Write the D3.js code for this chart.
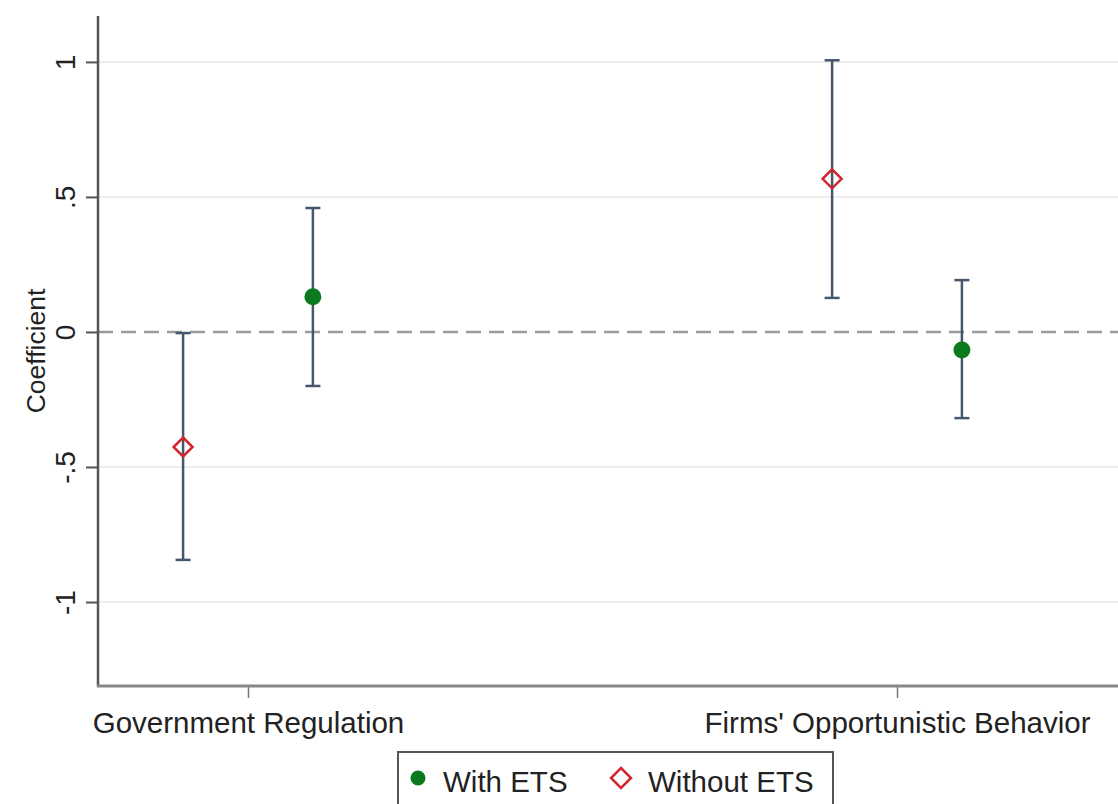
<!DOCTYPE html>
<html>
<head>
<meta charset="utf-8">
<script src="https://cdn.jsdelivr.net/npm/d3@7"></script>
<style>
  html, body { margin: 0; padding: 0; background: #fff; }
  svg { display: block; font-family: "Liberation Sans", Arial, sans-serif; }
</style>
</head>
<body>
<svg id="chart" width="1118" height="804"></svg>
<script>
// Outcome categories along the x axis
const categories = ["Government Regulation", "Firms' Opportunistic Behavior"];

// Coefficient estimates with 95% confidence bounds
const withETS     = [0.130, -0.067];
const withETSLo   = [-0.200, -0.319];
const withETSHi   = [0.459, 0.192];
const withoutETS  = [-0.426, 0.567];
const withoutLo   = [-0.844, 0.126];
const withoutHi   = [-0.004, 1.006];

const yTicks = [-1, -0.5, 0, 0.5, 1];
const yTickLabels = ["-1", "-.5", "0", ".5", "1"];
const seriesNames = ["With ETS", "Without ETS"];

const svg = d3.select("#chart");
const plotL = 98, plotB = 686, plotT = 16, plotR = 1118;

const x = d3.scaleLinear().domain([-0.2311, 1.3405]).range([plotL, plotR]);
const y = d3.scaleLinear().domain([-1.311, 1.170]).range([plotB, plotT]);
const offset = 0.1;

const ciColor = "#46566d";
const green = "#0b7a1e";
const red = "#d3252f";
const textColor = "#222";

// Horizontal gridlines
svg.append("g").selectAll("line")
  .data(yTicks.filter(d => d !== 0))
  .join("line")
  .attr("x1", plotL).attr("x2", plotR)
  .attr("y1", d => y(d)).attr("y2", d => y(d))
  .attr("stroke", "#ededed").attr("stroke-width", 2);

// Reference line at zero
svg.append("line")
  .attr("x1", plotL).attr("x2", plotR)
  .attr("y1", y(0)).attr("y2", y(0))
  .attr("stroke", "#9a9a9a").attr("stroke-width", 2.5)
  .attr("stroke-dasharray", "15,8");

// Y axis
const yAxis = d3.axisLeft(y).tickValues(yTicks)
  .tickFormat((d, i) => yTickLabels[i]).tickSize(12);
const gy = svg.append("g").attr("transform", `translate(${plotL},0)`).call(yAxis);
gy.select(".domain").remove();
gy.selectAll(".tick line").attr("stroke", "#555").attr("stroke-width", 2);
gy.selectAll(".tick text")
  .attr("fill", textColor).attr("font-size", 28)
  .attr("font-family", "Liberation Sans, Arial, sans-serif")
  .attr("text-anchor", "middle")
  .attr("x", 0).attr("dy", null).attr("y", 0)
  .attr("transform", "translate(-23,0) rotate(-90)");
svg.append("line")
  .attr("x1", plotL).attr("x2", plotL).attr("y1", plotT).attr("y2", plotB + 1)
  .attr("stroke", "#555").attr("stroke-width", 2.5);

// X axis
const xAxis = d3.axisBottom(x).tickValues([0, 1])
  .tickFormat((d, i) => categories[i]).tickSize(12).tickPadding(14);
const gx = svg.append("g").attr("transform", `translate(0,${plotB})`).call(xAxis);
gx.select(".domain").remove();
gx.selectAll(".tick line").attr("stroke", "#777").attr("stroke-width", 1.5);
gx.selectAll(".tick text").attr("fill", textColor).attr("font-size", 29.5)
  .attr("font-family", "Liberation Sans, Arial, sans-serif");
svg.append("line")
  .attr("x1", plotL - 1).attr("x2", plotR).attr("y1", plotB).attr("y2", plotB)
  .attr("stroke", "#888").attr("stroke-width", 3);

// Y axis title
svg.append("text")
  .attr("transform", `translate(45,${(plotT + plotB) / 2}) rotate(-90)`)
  .attr("text-anchor", "middle")
  .attr("fill", textColor).attr("font-size", 26.5)
  .text("Coefficient");

// Series definitions built from the arrays
const series = [
  { name: seriesNames[0], est: withETS, lo: withETSLo, hi: withETSHi, shift: offset },
  { name: seriesNames[1], est: withoutETS, lo: withoutLo, hi: withoutHi, shift: -offset }
];

const capHalf = 7.5;
series.forEach(s => {
  const g = svg.append("g");
  const pts = s.est.map((v, i) => ({ xv: i + s.shift, v, lo: s.lo[i], hi: s.hi[i] }));
  g.selectAll("line.ci").data(pts).join("line").attr("class", "ci")
    .attr("x1", d => x(d.xv)).attr("x2", d => x(d.xv))
    .attr("y1", d => y(d.lo)).attr("y2", d => y(d.hi))
    .attr("stroke", ciColor).attr("stroke-width", 2.5);
  g.selectAll("line.capHi").data(pts).join("line").attr("class", "capHi")
    .attr("x1", d => x(d.xv) - capHalf).attr("x2", d => x(d.xv) + capHalf)
    .attr("y1", d => y(d.hi)).attr("y2", d => y(d.hi))
    .attr("stroke", ciColor).attr("stroke-width", 2.5);
  g.selectAll("line.capLo").data(pts).join("line").attr("class", "capLo")
    .attr("x1", d => x(d.xv) - capHalf).attr("x2", d => x(d.xv) + capHalf)
    .attr("y1", d => y(d.lo)).attr("y2", d => y(d.lo))
    .attr("stroke", ciColor).attr("stroke-width", 2.5);
  s.pts = pts;
});

// Markers: filled green circles and hollow red diamonds
svg.append("g").selectAll("circle").data(series[0].pts).join("circle")
  .attr("cx", d => x(d.xv)).attr("cy", d => y(d.v)).attr("r", 8.5)
  .attr("fill", green);

const diamond = (cx, cy, r) => `M${cx},${cy - r}L${cx + r},${cy}L${cx},${cy + r}L${cx - r},${cy}Z`;
svg.append("g").selectAll("path").data(series[1].pts).join("path")
  .attr("d", d => diamond(x(d.xv), y(d.v), 9.5))
  .attr("fill", "none").attr("stroke", red).attr("stroke-width", 2.5);

// Legend
const lg = svg.append("g");
lg.append("rect").attr("x", 398).attr("y", 752).attr("width", 435).attr("height", 70)
  .attr("fill", "#fff").attr("stroke", "#555").attr("stroke-width", 2);
lg.append("circle").attr("cx", 418).attr("cy", 778).attr("r", 7.5).attr("fill", green);
lg.append("text").attr("x", 443).attr("y", 792).attr("font-size", 29.5)
  .attr("fill", textColor).text(seriesNames[0]);
lg.append("path").attr("d", diamond(621, 778, 10))
  .attr("fill", "none").attr("stroke", red).attr("stroke-width", 2.5);
lg.append("text").attr("x", 648).attr("y", 792).attr("font-size", 29.5)
  .attr("fill", textColor).text(seriesNames[1]);
</script>
</body>
</html>
